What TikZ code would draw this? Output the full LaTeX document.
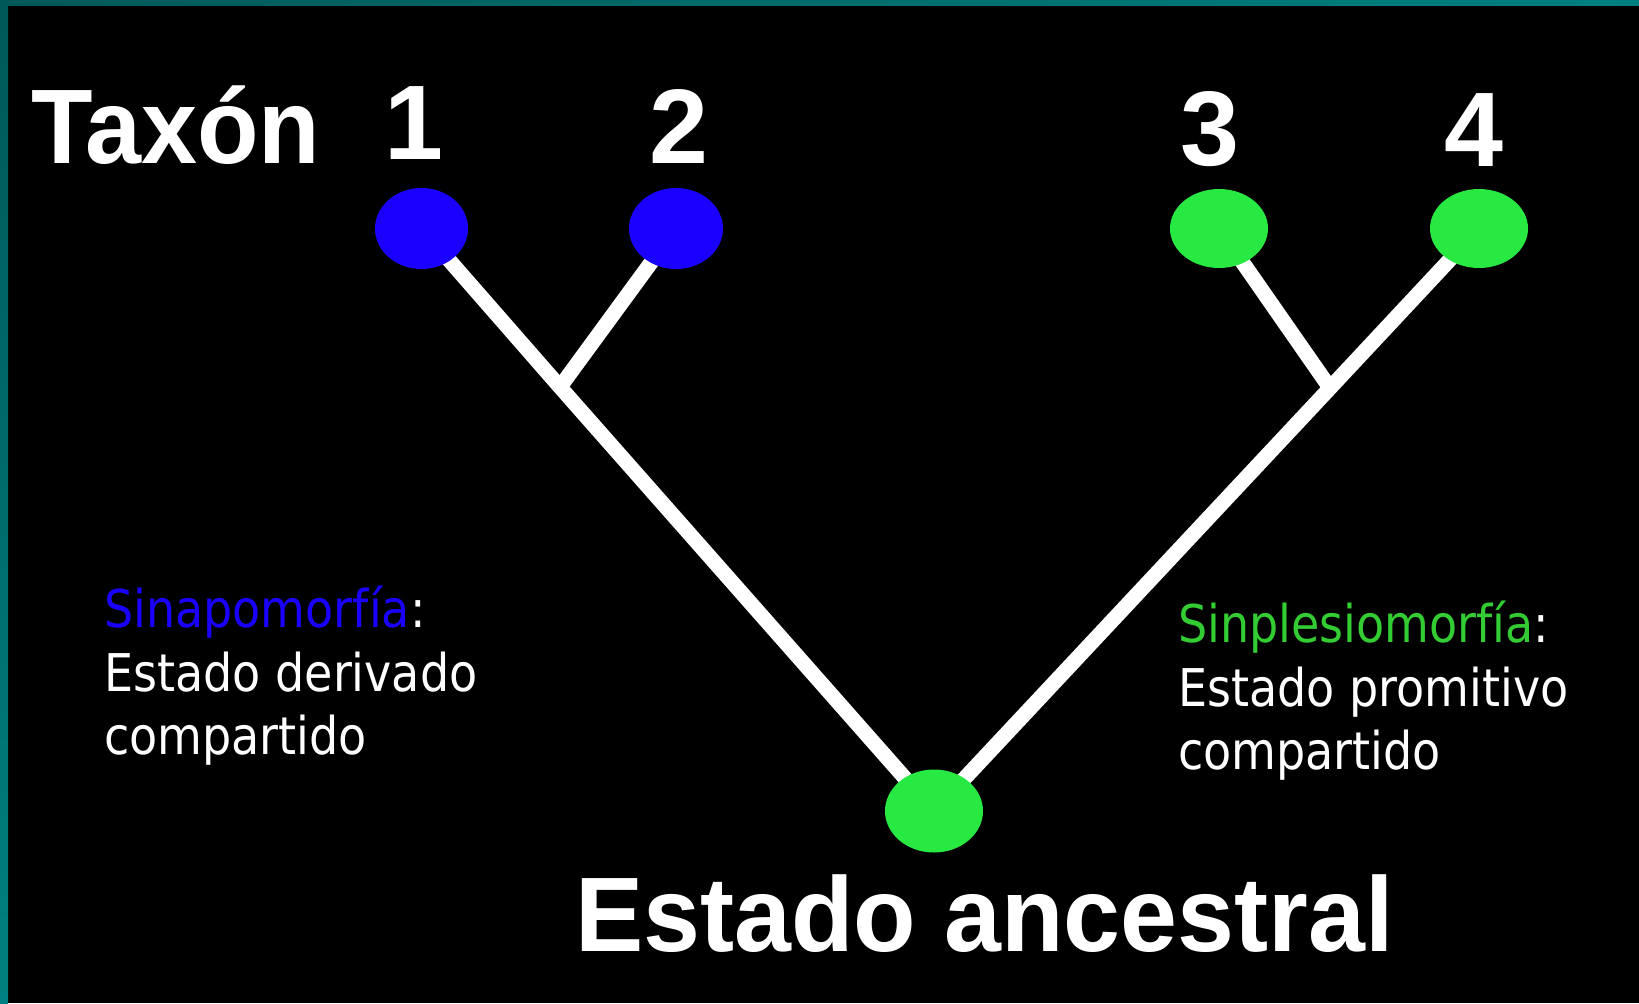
\documentclass[tikz,border=0pt]{standalone}
\usepackage{fontspec}
\usepackage{graphicx}
\setmainfont{DejaVu Sans}
\newfontfamily\bigfont{Liberation Sans}
\usetikzlibrary{shapes.geometric}
\pgfdeclarelayer{bg}
\pgfsetlayers{bg,main}
\definecolor{taxblue}{RGB}{26,0,255}
\definecolor{taxgreen}{RGB}{40,232,66}
\definecolor{txtgreen}{RGB}{51,204,51}
\definecolor{edgeA}{RGB}{0,88,88}
\definecolor{edgeB}{RGB}{0,128,128}
\begin{document}
\begin{tikzpicture}[x=1bp,y=-1bp,
  taxon/.style={ellipse, inner sep=0pt, minimum width=95bp, minimum height=80bp},
  bluenode/.style={taxon, fill=taxblue},
  greennode/.style={taxon, fill=taxgreen},
  branch/.style={draw=white, line width=15bp, line join=round},
  bigtxt/.style={text=white, inner sep=0pt, anchor=base, font=\bigfont\bfseries\fontsize{106bp}{120bp}\selectfont},
  smalltxt/.style={text=white, inner sep=0pt, anchor=base west, font=\fontsize{52bp}{60bp}\selectfont}]
\useasboundingbox (0,0) rectangle (1639,1003);
\begin{pgfonlayer}{bg}
\fill[black] (0,0) rectangle (1639,1003);
\end{pgfonlayer}
% taxa
\node[bluenode, minimum width=93bp, minimum height=81bp] (n1) at (421.5,228.5) {};
\node[bluenode, minimum width=94bp, minimum height=81bp] (n2) at (676,228.5) {};
\node[greennode, minimum width=98bp, minimum height=79bp] (n3) at (1219,228.5) {};
\node[greennode, minimum width=98bp, minimum height=79bp] (n4) at (1479,228.5) {};
\node[greennode, minimum width=98bp, minimum height=83bp] (root) at (934,811) {};
\coordinate (j1) at (560,387);
\coordinate (j2) at (1330,388);
\begin{pgfonlayer}{bg}
\draw[branch] (n1.center) -- (j1) -- (root.center);
\draw[branch] (j1) -- (n2.center);
\draw[branch] (n4.center) -- (j2) -- (root.center);
\draw[branch] (j2) -- (n3.center);
\end{pgfonlayer}
% big labels
\node[bigtxt, anchor=base west] (taxon) at (31,163) {\scalebox{0.95}[1]{Taxón}};
\node[bigtxt] (t1) at (414,159) {1};
\node[bigtxt] (t2) at (679,163) {2};
\node[bigtxt] (t3) at (1210,165) {3};
\node[bigtxt] (t4) at (1474,166) {4};
\node[bigtxt, anchor=base west] (anc) at (575,951) {\scalebox{0.965}[1]{Estado ancestral}};
% left explanation
\node[smalltxt] (l1) at (104,627) {\scalebox{0.885}[1]{\textcolor{taxblue}{Sinapomorfía}:}};
\node[smalltxt] (l2) at (104,691) {\scalebox{0.885}[1]{Estado derivado}};
\node[smalltxt] (l3) at (104,754) {\scalebox{0.885}[1]{compartido}};
% right explanation
\node[smalltxt] (r1) at (1178,642) {\scalebox{0.885}[1]{\textcolor{txtgreen}{Sinplesiomorfía}:}};
\node[smalltxt] (r2) at (1178,706) {\scalebox{0.885}[1]{Estado promitivo}};
\node[smalltxt] (r3) at (1178,769) {\scalebox{0.885}[1]{compartido}};
% frame strips
\fill[top color=edgeA, bottom color=edgeB] (0,0) rectangle (8,1003);
\fill[left color=edgeA, right color=edgeB] (0,0) rectangle (1639,5);
\end{tikzpicture}
\end{document}
